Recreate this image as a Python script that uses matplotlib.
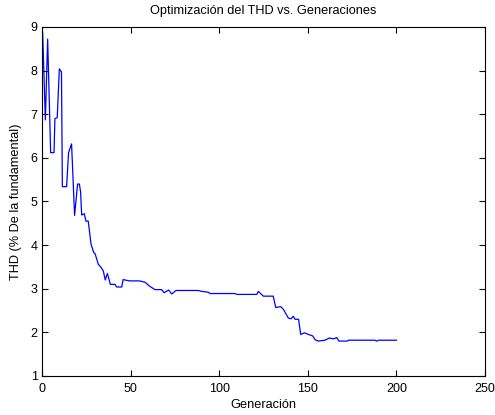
import matplotlib
matplotlib.use("Agg")
import matplotlib.pyplot as plt

plt.rcParams['font.family'] = ['Liberation Sans', 'DejaVu Sans']

# Breakpoints of the best THD per generation
generations = [0.4, 1.9, 3.2, 4.9, 6.8, 7.3, 8.6, 9.8, 11.0, 11.5, 13.9, 15.0, 16.7,
               18.4, 20.1, 21.1, 21.8, 22.4, 23.9, 24.8, 26.1, 27.7, 29.2, 30.0,
               31.8, 33.1, 34.6, 35.7, 36.9, 38.6, 41.2, 42.1, 45.0, 45.8, 49.3,
               54.9, 58.1, 61.0, 63.8, 67.5, 68.9, 71.5, 73.2, 75.6, 88.2, 90.1,
               93.9, 94.8, 108.9, 109.9, 121.2, 122.1, 124.9, 130.5, 131.9, 134.7,
               136.2, 139.0, 140.5, 141.8, 142.8, 144.8, 146.0, 148.0, 151.2, 152.7,
               154.2, 155.9, 159.7, 162.1, 164.4, 166.3, 167.6, 172.3, 172.9, 187.9,
               188.9, 190.0, 200.0]
thd = [8.86, 6.87, 8.72, 6.12, 6.12, 6.90, 6.92, 8.04, 7.97, 5.34, 5.34, 6.12, 6.32,
       4.68, 5.40, 5.40, 5.22, 4.69, 4.72, 4.55, 4.55, 4.02, 3.83, 3.80,
       3.56, 3.50, 3.41, 3.20, 3.35, 3.10, 3.10, 3.04, 3.04, 3.21, 3.18,
       3.18, 3.15, 3.05, 2.98, 2.98, 2.91, 2.97, 2.88, 2.96, 2.96, 2.94,
       2.92, 2.89, 2.89, 2.87, 2.87, 2.94, 2.83, 2.83, 2.57, 2.59,
       2.53, 2.33, 2.31, 2.37, 2.30, 2.30, 1.95, 1.99, 1.94, 1.92,
       1.83, 1.80, 1.82, 1.87, 1.85, 1.88, 1.80, 1.80, 1.82, 1.82,
       1.80, 1.82, 1.82]

xticks = [0, 50, 100, 150, 200, 250]
yticks = [1, 2, 3, 4, 5, 6, 7, 8, 9]

fig = plt.figure(figsize=(4.95, 4.15), dpi=100)
ax = fig.add_axes([0.0848, 0.094, 0.895, 0.841])
ax.plot(generations, thd, color='blue', linewidth=0.9)
ax.set_xlim(0, 250)
ax.set_ylim(1, 9)
ax.set_xticks(xticks)
ax.set_yticks(yticks)
ax.tick_params(direction='in', top=True, right=True, labelsize=9, length=4, width=0.8)
ax.tick_params(axis='x', pad=5)
ax.tick_params(axis='y', pad=3)
for s in ax.spines.values():
    s.set_linewidth(0.8)
ax.set_title('Optimización del THD vs. Generaciones', fontsize=9.2, pad=9)
ax.set_xlabel('Generación', fontsize=9.2, labelpad=3)
ax.set_ylabel('THD (% De la fundamental)', fontsize=9.2, labelpad=6)
fig.savefig('out.png', dpi=100)
